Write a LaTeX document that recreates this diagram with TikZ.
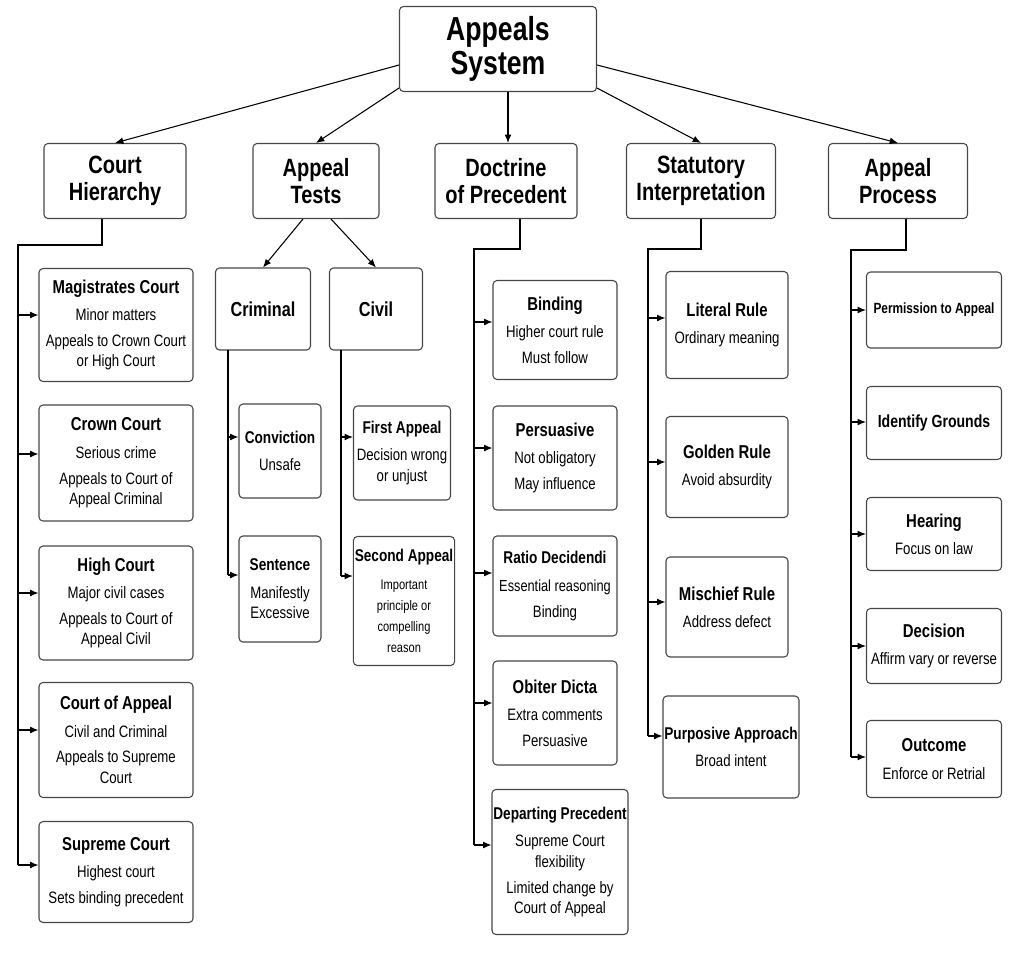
\documentclass[tikz,border=0pt]{standalone}
\usepackage{fontspec}
\setmainfont{Liberation Sans}[FakeStretch=0.8]
\usetikzlibrary{arrows.meta, positioning}
\definecolor{boxEdge}{RGB}{70,70,70}
\tikzset{
    box/.style={draw=boxEdge, rounded corners=3pt, thick, fill=white, align=center, inner sep=1pt},
    head/.style={box, font=\fontsize{18.8}{20}\selectfont\bfseries},
    leaf/.style={box, font=\fontsize{12.4}{15.5}\selectfont},
    link/.style={-{Latex[length=2.2mm,width=1.8mm]}, thick, draw=black},
    bus/.style={thick, draw=black}
}
\newcommand{\ttl}[1]{{\fontsize{14}{16}\selectfont\bfseries #1}\\[5pt]}
\newcommand{\ttls}[1]{{\fontsize{12.8}{16}\selectfont\bfseries #1}\\[5pt]}
\newcommand{\bx}[6]{\node[leaf, minimum width=#4, minimum height=#5] (#1) at (#2,#3) {#6};}

\begin{document}
\begin{tikzpicture}[x=0.0264cm, y=-0.0264cm]
    \useasboundingbox (0,0) rectangle (1018,953);

    % root and headers
    \node[box, font=\fontsize{25}{26}\selectfont\bfseries, minimum width=197*0.0264cm, minimum height=85*0.0264cm] (root) at (498,49) {Appeals\\System};
    \node[head, minimum width=142*0.0264cm, minimum height=75*0.0264cm] (hier) at (115,181) {Court\\Hierarchy};
    \node[head, minimum width=126*0.0264cm, minimum height=75*0.0264cm] (tests) at (316,181) {Appeal\\Tests};
    \node[head, minimum width=142*0.0264cm, minimum height=75*0.0264cm] (prec) at (506,181) {Doctrine\\of Precedent};
    \node[head, minimum width=149*0.0264cm, minimum height=75*0.0264cm] (stat) at (701,181) {Statutory\\Interpretation};
    \node[head, minimum width=139*0.0264cm, minimum height=75*0.0264cm] (proc) at (898,181) {Appeal\\Process};

    \draw[link] (root.west) ++(0,16) -- (hier.north);
    \draw[link] (root.south west) ++(0,-4) -- (tests.north);
    \draw[link] (root.south) ++(10,0) -- (prec.north -| 508,0);
    \draw[link] (root.south east) ++(0,-4) -- (stat.north);
    \draw[link] (root.east) ++(0,16) -- (proc.north);

    % court hierarchy
    \bx{mag}{116}{325}{154*0.0264cm}{113*0.0264cm}{\ttl{Magistrates Court}Minor matters\\[4pt]Appeals to Crown Court\\or High Court}
    \bx{crown}{116}{463}{154*0.0264cm}{116*0.0264cm}{\ttl{Crown Court}Serious crime\\[4pt]Appeals to Court of\\Appeal Criminal}
    \bx{high}{116}{603}{154*0.0264cm}{114*0.0264cm}{\ttl{High Court}Major civil cases\\[4pt]Appeals to Court of\\Appeal Civil}
    \bx{coa}{116}{740}{154*0.0264cm}{115*0.0264cm}{\ttl{Court of Appeal}Civil and Criminal\\[4pt]Appeals to Supreme\\Court}
    \bx{sup}{116}{872}{154*0.0264cm}{101*0.0264cm}{\ttl{Supreme Court}Highest court\\[4pt]Sets binding precedent}
    \draw[bus] (102,219) -- (102,245) -- (18,245) -- (18,865);
    \foreach \n/\y in {mag/315, crown/454, high/593, coa/730, sup/865}
        \draw[link] (18,\y) -- (\n.west |- 0,\y);

    % appeal tests
    \node[head, font=\fontsize{15.2}{17}\selectfont\bfseries, minimum width=95*0.0264cm, minimum height=82*0.0264cm] (crim) at (263,309) {Criminal};
    \node[head, font=\fontsize{15.2}{17}\selectfont\bfseries, minimum width=93*0.0264cm, minimum height=82*0.0264cm] (civ) at (376,309) {Civil};
    \draw[link] (303,219) -- (crim.north);
    \draw[link] (331,219) -- (civ.north);
    \bx{conv}{280}{451}{82*0.0264cm}{94*0.0264cm}{\ttls{Conviction}Unsafe}
    \bx{sent}{280}{589}{82*0.0264cm}{106*0.0264cm}{\ttls{Sentence}Manifestly\\Excessive}
    \bx{first}{402}{453}{97*0.0264cm}{94*0.0264cm}{\ttls{First Appeal}Decision wrong\\or unjust}
    \node[leaf, font=\fontsize{10.4}{15.7}\selectfont, minimum width=101*0.0264cm, minimum height=129*0.0264cm] (second) at (404,601) {\ttls{Second Appeal}Important\\principle or\\compelling\\reason};
    \draw[bus] (228,350) -- (228,575);
    \draw[link] (228,437) -- (conv.west |- 0,437);
    \draw[link] (228,575) -- (sent.west |- 0,575);
    \draw[bus] (341,350) -- (341,576);
    \draw[link] (341,437) -- (first.west |- 0,437);
    \draw[link] (341,576) -- (second.west |- 0,576);

    % doctrine of precedent
    \bx{bind}{555}{330}{124*0.0264cm}{99*0.0264cm}{\ttl{Binding}Higher court rule\\[4pt]Must follow}
    \bx{pers}{555}{458}{124*0.0264cm}{104*0.0264cm}{\ttl{Persuasive}Not obligatory\\[4pt]May influence}
    \bx{ratio}{555}{586}{124*0.0264cm}{100*0.0264cm}{\ttls{Ratio Decidendi}\fontsize{12}{15.5}\selectfont Essential reasoning\\[4pt]Binding}
    \bx{obit}{555}{713}{124*0.0264cm}{104*0.0264cm}{\ttl{Obiter Dicta}Extra comments\\[4pt]Persuasive}
    \bx{depart}{560}{862}{135*0.0264cm}{145*0.0264cm}{\ttls{Departing Precedent}Supreme Court\\flexibility\\[4pt]Limited change by\\Court of Appeal}
    \draw[bus] (520,219) -- (520,249) -- (474,249) -- (474,845);
    \foreach \n/\y in {bind/322, pers/448, ratio/573, obit/703, depart/845}
        \draw[link] (474,\y) -- (\n.west |- 0,\y);

    % statutory interpretation
    \bx{lit}{727}{325}{122*0.0264cm}{107*0.0264cm}{\ttl{Literal Rule}Ordinary meaning}
    \bx{gold}{727}{467}{122*0.0264cm}{101*0.0264cm}{\ttl{Golden Rule}Avoid absurdity}
    \bx{misc}{727}{607}{122*0.0264cm}{100*0.0264cm}{\ttl{Mischief Rule}Address defect}
    \bx{purp}{731}{747}{131*0.0264cm}{102*0.0264cm}{\ttls{Purposive Approach}Broad intent}
    \draw[bus] (701,219) -- (701,249) -- (648,249) -- (648,736);
    \foreach \n/\y in {lit/318, gold/462, misc/602, purp/736}
        \draw[link] (648,\y) -- (\n.west |- 0,\y);

    % appeal process
    \bx{perm}{934}{310}{135*0.0264cm}{76*0.0264cm}{\fontsize{11.1}{14}\selectfont\bfseries Permission to Appeal}
    \bx{ident}{934}{423}{135*0.0264cm}{73*0.0264cm}{\fontsize{13.2}{15}\selectfont\bfseries Identify Grounds}
    \bx{hear}{934}{534}{135*0.0264cm}{73*0.0264cm}{\ttl{Hearing}Focus on law}
    \bx{deci}{934}{646}{135*0.0264cm}{75*0.0264cm}{\ttl{Decision}Affirm vary or reverse}
    \bx{outc}{934}{759}{135*0.0264cm}{77*0.0264cm}{\ttl{Outcome}Enforce or Retrial}
    \draw[bus] (906,219) -- (906,250) -- (851,250) -- (851,757);
    \foreach \n/\y in {perm/310, ident/422, hear/534, deci/646, outc/757}
        \draw[link] (851,\y) -- (\n.west |- 0,\y);
\end{tikzpicture}
\end{document}
